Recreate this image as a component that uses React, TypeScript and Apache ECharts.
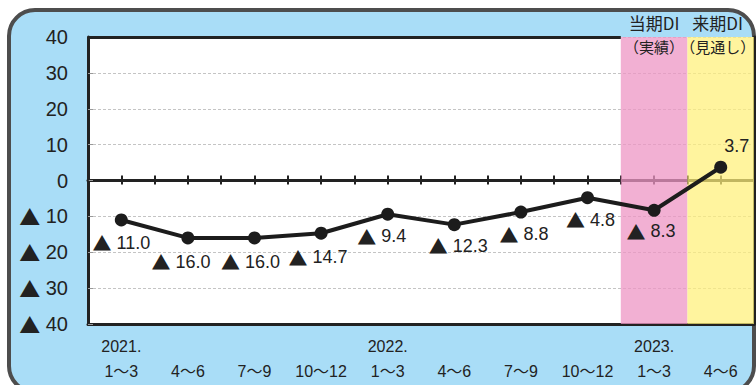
import React, { useEffect, useRef } from 'react';
import * as echarts from 'echarts';

// ---- data ----
const years = ['2021.', '', '', '', '2022.', '', '', '', '2023.', ''];
const months = ['1～3', '4～6', '7～9', '10～12', '1～3', '4～6', '7～9', '10～12', '1～3', '4～6'];
const diValues = [-11.0, -16.0, -16.0, -14.7, -9.4, -12.3, -8.8, -4.8, -8.3, 3.7];
const bandHeads = ['当期DI', '来期DI'];
const bandSubs = ['（実績）', '（見通し）'];
const bandStart = [8, 9];

// ---- layout / style (kept separate from data) ----
const labelNudge: number[][] = [
  [0, 1], [-7, 2], [-4, 2], [-3, 2], [-6, 0], [4, -1], [3, 0], [3, 0], [-3, -1], [16, 0],
];
const bandLabelShift = [0, -3];
const bandColors = ['rgba(238,150,196,0.75)', 'rgba(255,240,120,0.72)'];

const TXT = '#222222';
const FONT = '"Liberation Sans", "Noto Sans CJK JP", sans-serif';
const CJK = '"Noto Sans CJK JP", sans-serif';

const fmtDI = (v: number) => (v < 0 ? `{t|▲} ${Math.abs(v).toFixed(1)}` : v.toFixed(1));

export default function App() {
  const ref = useRef<HTMLDivElement>(null);

  useEffect(() => {
    if (!ref.current) return;
    const chart = echarts.init(ref.current, undefined, { renderer: 'svg' });

    const n = months.length;
    const lineData = diValues.map((v, i) => ({
      value: [i + 0.5, v],
      label: {
        position: v < 0 ? 'bottom' : 'top',
        offset: labelNudge[i],
      },
    }));

    const areaData = bandStart.map((s, i) => [
      {
        xAxis: s,
        yAxis: 40,
        itemStyle: { color: bandColors[i] },
        label: {
          show: true,
          position: 'insideTop',
          distance: 0,
          offset: [bandLabelShift[i], -27],
          formatter: `{h|${bandHeads[i]}}\n{s|${bandSubs[i]}}`,
          rich: {
            h: { fontSize: 17, lineHeight: 24, color: TXT, fontFamily: CJK },
            s: { fontSize: 15, lineHeight: 24, color: TXT, fontFamily: CJK },
          },
        },
      },
      { xAxis: s + 1, yAxis: -40 },
    ]);

    const xLabel = (v: number) => {
      const k = Math.floor(v);
      if (Math.abs(v - k - 0.5) > 1e-6 || k < 0 || k >= n) return '';
      return `{y|${years[k] || ' '}}\n{m|${months[k]}}`;
    };

    chart.setOption({
      animation: false,
      backgroundColor: 'transparent',
      grid: {
        left: 88,
        right: 2,
        top: 37,
        bottom: 61,
        show: true,
        backgroundColor: '#ffffff',
        borderWidth: 0,
        containLabel: false,
        outerBoundsMode: 'none',
      },
      xAxis: [
        {
          type: 'value',
          min: 0,
          max: n,
          interval: 0.5,
          position: 'bottom',
          axisLine: { show: true, onZero: false, lineStyle: { color: TXT, width: 3 } },
          axisTick: { show: false },
          splitLine: { show: false },
          axisLabel: {
            show: true,
            margin: 10,
            formatter: xLabel,
            showMinLabel: true,
            showMaxLabel: true,
            rich: {
              y: { fontSize: 16, lineHeight: 25, color: TXT, fontFamily: FONT },
              m: { fontSize: 16, lineHeight: 25, color: TXT, fontFamily: FONT },
            },
          },
        },
        {
          type: 'value',
          min: 0,
          max: n,
          interval: 0.5,
          position: 'bottom',
          axisLine: { show: true, onZero: true, onZeroAxisIndex: 0, lineStyle: { color: TXT, width: 3 } },
          axisTick: { show: true, inside: false, length: 4, lineStyle: { color: TXT, width: 2 } },
          axisLabel: { show: false },
          splitLine: { show: false },
        },
        {
          type: 'value',
          min: 0,
          max: n,
          interval: 0.5,
          position: 'top',
          axisLine: { show: false, onZero: true, onZeroAxisIndex: 0 },
          axisTick: { show: true, inside: false, length: 5, lineStyle: { color: TXT, width: 2 } },
          axisLabel: { show: false },
          splitLine: { show: false },
        },
      ],
      yAxis: [
        {
          type: 'value',
          min: -40,
          max: 40,
          interval: 10,
          position: 'left',
          axisLine: { show: true, onZero: false, lineStyle: { color: TXT, width: 3 } },
          axisTick: { show: true, inside: true, length: 5, lineStyle: { color: '#999999', width: 1 } },
          splitLine: { show: true, lineStyle: { color: '#c4c4c4', width: 1, type: [3, 2] } },
          axisLabel: {
            margin: 20,
            fontSize: 20,
            color: TXT,
            fontFamily: FONT,
            formatter: (v: number) => (v < 0 ? `{t|▲} ${Math.abs(v)}` : `${v}`),
            rich: {
              t: { fontSize: 21, color: TXT, fontFamily: CJK },
            },
          },
        },
        {
          type: 'value',
          min: -40,
          max: 40,
          interval: 10,
          position: 'right',
          axisLine: { show: true, onZero: false, lineStyle: { color: TXT, width: 3 } },
          axisTick: { show: false },
          splitLine: { show: false },
          axisLabel: { show: false },
        },
      ],
      series: [
        {
          type: 'line',
          data: [],
          z: 1,
          silent: true,
          markArea: { silent: true, data: areaData },
          markLine: {
            silent: true,
            symbol: ['none', 'none'],
            label: { show: false },
            lineStyle: { color: TXT, width: 3, type: 'solid' },
            data: [[{ coord: [0, 40] }, { coord: [bandStart[0], 40] }]],
          },
        },
        {
          type: 'line',
          z: 5,
          data: lineData,
          symbol: 'circle',
          symbolSize: 13,
          lineStyle: { color: '#1c1c1c', width: 4 },
          itemStyle: { color: '#1c1c1c' },
          label: {
            show: true,
            distance: 6,
            fontSize: 18,
            color: TXT,
            fontFamily: FONT,
            formatter: (p: any) => fmtDI(p.value[1]),
            rich: {
              t: { fontSize: 19, color: TXT, fontFamily: CJK },
            },
          },
        },
      ],
    });

    return () => chart.dispose();
  }, []);

  return (
    <div
      style={{
        position: 'fixed',
        left: 0,
        top: 0,
        width: 756,
        height: 385,
        overflow: 'hidden',
        background: '#ffffff',
      }}
    >
      <div
        style={{
          position: 'absolute',
          left: 7,
          top: 8,
          width: 741,
          height: 378,
          border: '4px solid #4d4d4d',
          borderRadius: 28,
          background: '#a9ddf7',
        }}
      />
      <div ref={ref} style={{ position: 'absolute', left: 0, top: 0, width: 756, height: 385 }} />
    </div>
  );
}
